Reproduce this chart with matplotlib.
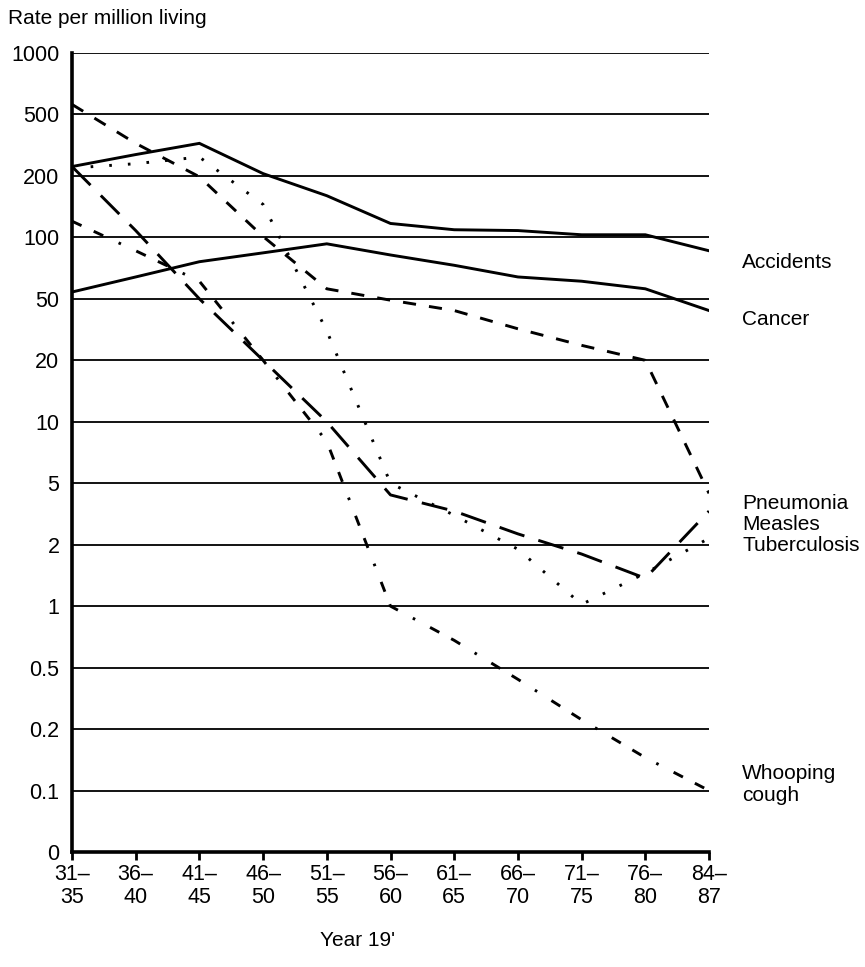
import numpy as np
import matplotlib
matplotlib.use("Agg")
from matplotlib import pyplot as plt
import matplotlib.transforms as mtransforms

plt.rcParams['font.family'] = ['Liberation Sans', 'DejaVu Sans']

periods = ["31–\n35", "36–\n40", "41–\n45", "46–\n50", "51–\n55", "56–\n60",
           "61–\n65", "66–\n70", "71–\n75", "76–\n80", "84–\n87"]

accidents = [230, 275, 325, 207, 160, 117, 109, 108, 103, 103, 86]
cancer = [54, 64, 76, 84, 93, 82, 73, 64, 61, 56, 42]
pneumonia = [560, 325, 198, 101, 56, 49, 42, 32, 25, 20, 4.3]
measles = [230, 108, 50, 20, 10, 4.2, 3.3, 2.35, 1.8, 1.37, 3.3]
tuberculosis = [225, 240, 265, 145, 31, 5, 3.1, 1.9, 1.02, 1.45, 2.2]
whooping = [120, 86, 61, 20, 8, 1, 0.68, 0.42, 0.23, 0.145, 0.1]

yticks = [0, 0.1, 0.2, 0.5, 1, 2, 5, 10, 20, 50, 100, 200, 500, 1000]
ylabels = ["0", "0.1", "0.2", "0.5", "1", "2", "5", "10", "20", "50",
           "100", "200", "500", "1000"]

# the printed axis puts every tick one step apart, so map values onto steps
log_ticks = np.log10(yticks[1:])
steps = np.arange(1, len(yticks))


def forward(v):
    v = np.asarray(v, dtype=float)
    safe = np.log10(np.maximum(v, 1e-12))
    return np.where(v < 0.1, v / 0.1, np.interp(safe, log_ticks, steps))


def inverse(p):
    p = np.asarray(p, dtype=float)
    return np.where(p < 1, p * 0.1, 10 ** np.interp(p, steps, log_ticks))


fig = plt.figure(figsize=(8.65, 9.67), dpi=100)
ax = fig.add_axes([72 / 865, 1 - 852 / 967, (709 - 72) / 865, (852 - 53) / 967])
ax.set_yscale('function', functions=(forward, inverse))

x = np.arange(len(periods))
lw = 2.1
ax.plot(x, accidents, color='black', lw=lw, solid_joinstyle='miter')
ax.plot(x, cancer, color='black', lw=lw, solid_joinstyle='miter')
ax.plot(x, pneumonia, color='black', lw=lw, linestyle=(0, (4.5, 4.5)))
ax.plot(x, measles, color='black', lw=lw, linestyle=(0, (9, 5)))
ax.plot(x, tuberculosis, color='black', lw=lw, linestyle=(0, (0.9, 5.5)))
ax.plot(x, whooping, color='black', lw=lw, linestyle=(0, (3.6, 4.6, 3.6, 5.8, 0.9, 5.8)))

ax.set_xlim(0, 10)
ax.set_ylim(0, 1000)
ax.set_yticks(yticks)
ax.set_yticklabels(ylabels)
ax.set_xticks(x)
ax.set_xticklabels(periods, fontsize=15.5, linespacing=1.1)
ax.tick_params(axis='y', length=0, pad=9, labelsize=15.5)
ax.tick_params(axis='x', length=6, width=2, direction='out', pad=3)

for yv in yticks[1:]:
    ax.axhline(yv, color='black', lw=1.3, zorder=0)

for side in ['top', 'right']:
    ax.spines[side].set_visible(False)
ax.spines['left'].set_linewidth(2.6)
ax.spines['bottom'].set_linewidth(2.6)

lab_x = 10.52
tr = mtransforms.blended_transform_factory(ax.transData, ax.transAxes)
ax.text(lab_x, 0.738, "Accidents", transform=tr, fontsize=15, va='center', clip_on=False)
ax.text(lab_x, 0.667, "Cancer", transform=tr, fontsize=15, va='center', clip_on=False)
ax.text(lab_x, 0.41, "Pneumonia\nMeasles\nTuberculosis", transform=tr, fontsize=15,
        va='center', linespacing=1.12, clip_on=False)
ax.text(lab_x, 0.085, "Whooping\ncough", transform=tr, fontsize=15, va='center',
        linespacing=1.2, clip_on=False)

fig.text(8 / 865, 1 - 18 / 967, "Rate per million living", fontsize=15, va='center')
fig.text(357 / 865, 1 - 940 / 967, "Year 19'", fontsize=15, va='center', ha='center')

fig.savefig("out.png", dpi=100)
